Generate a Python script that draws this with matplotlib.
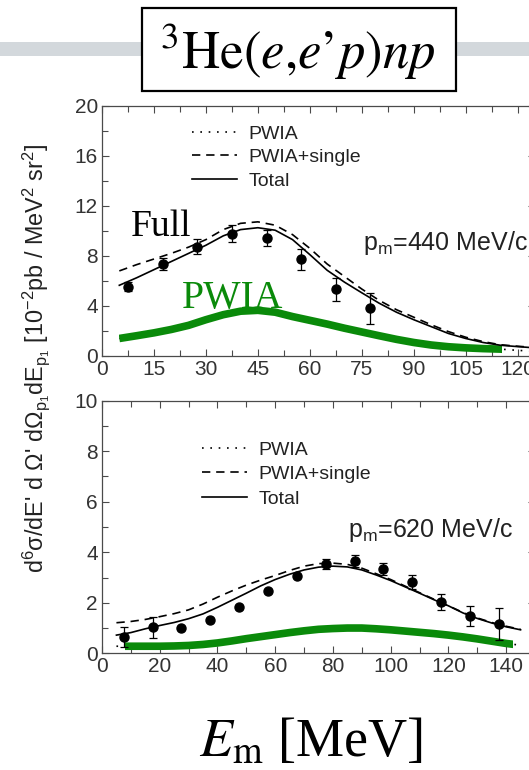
import numpy as np
import matplotlib
matplotlib.use("Agg")
import matplotlib.pyplot as plt
from matplotlib.lines import Line2D
from matplotlib.patches import Rectangle
from matplotlib.ticker import MultipleLocator

plt.rcParams['font.family'] = ['Liberation Sans', 'DejaVu Sans']
plt.rcParams['mathtext.fontset'] = 'custom'
plt.rcParams['mathtext.rm'] = 'Liberation Sans'
plt.rcParams['mathtext.it'] = 'Liberation Sans:italic'
plt.rcParams['mathtext.bf'] = 'Liberation Sans:bold'

# ---------------- p_m = 440 MeV/c ----------------
em_440_data = [7.5, 17.5, 27.5, 37.5, 47.5, 57.5, 67.5, 77.5]
xs_440_data = [5.55, 7.36, 8.72, 9.78, 9.45, 7.73, 5.33, 3.81]
err_440_data = [0.35, 0.47, 0.6, 0.65, 0.63, 0.84, 0.93, 1.23]

em_440_curve = [5, 10, 15, 20, 25, 30, 35, 40, 45, 50, 55, 60, 65, 70, 75,
                80, 85, 90, 95, 100, 105, 110, 115, 120, 125]
total_440 = [5.65, 6.25, 6.9, 7.55, 8.2, 8.85, 9.6, 10.1, 10.25, 10.05, 9.3,
             8.1, 6.85, 5.9, 5.05, 4.22, 3.5, 2.9, 2.35, 1.8, 1.4, 1.08,
             0.86, 0.75, 0.65]
single_440 = [6.8, 7.3, 7.75, 8.2, 8.7, 9.3, 10.1, 10.6, 10.72, 10.45, 9.7,
              8.6, 7.35, 6.35, 5.35, 4.45, 3.7, 3.1, 2.5, 1.95, 1.5, 1.15,
              0.9, 0.78, 0.68]
pwia_440 = [1.4, 1.62, 1.85, 2.12, 2.45, 2.9, 3.3, 3.58, 3.65, 3.5, 3.15,
            2.85, 2.55, 2.22, 1.92, 1.62, 1.33, 1.08, 0.88, 0.74, 0.65,
            0.59, 0.55, 0.45, 0.38]
pwia_band_440 = (5.0, 115.5)

# ---------------- p_m = 620 MeV/c ----------------
em_620_data = [7.5, 17.5, 27.5, 37.5, 47.5, 57.5, 67.5, 77.5, 87.5, 97.5,
               107.5, 117.5, 127.5, 137.5]
xs_620_data = [0.66, 1.03, 1.01, 1.32, 1.82, 2.45, 3.06, 3.52, 3.65, 3.34,
               2.81, 2.02, 1.48, 1.16]
err_620_data = [0.4, 0.41, 0.05, 0.05, 0.05, 0.05, 0.05, 0.2, 0.24, 0.25,
                0.28, 0.32, 0.41, 0.65]

em_620_curve = [5, 10, 15, 20, 25, 30, 35, 40, 45, 50, 55, 60, 65, 70, 75,
                80, 85, 90, 95, 100, 105, 110, 115, 120, 125, 130, 135, 140,
                145]
total_620 = [0.72, 0.82, 0.97, 1.1, 1.22, 1.37, 1.56, 1.82, 2.1, 2.38, 2.67,
             2.92, 3.13, 3.3, 3.41, 3.45, 3.42, 3.3, 3.1, 2.88, 2.63, 2.38,
             2.12, 1.88, 1.6, 1.38, 1.2, 1.05, 0.93]
single_620 = [1.21, 1.26, 1.34, 1.45, 1.57, 1.72, 1.95, 2.22, 2.47, 2.7, 2.9,
              3.08, 3.28, 3.45, 3.55, 3.57, 3.52, 3.37, 3.15, 2.92, 2.66,
              2.4, 2.14, 1.88, 1.62, 1.4, 1.22, 1.07, 0.95]
pwia_620 = [0.28, 0.28, 0.28, 0.28, 0.29, 0.31, 0.35, 0.41, 0.49, 0.58, 0.66,
            0.74, 0.82, 0.89, 0.95, 0.98, 1.0, 1.0, 0.97, 0.93, 0.88, 0.83,
            0.78, 0.72, 0.65, 0.57, 0.48, 0.39, 0.32]
pwia_band_620 = (8.0, 142.5)

legend_labels = ['PWIA', 'PWIA+single', 'Total']

GREEN = '#0a8a0a'
SPINE = '#4a4a4a'
TICKTXT = '#333333'

fig = plt.figure(figsize=(5.29, 7.70), dpi=100)
W, H = 529.0, 770.0


def fx(px):
    return px / W


def fy(py):
    return 1.0 - py / H


# header band and boxed reaction label
fig.patches.append(Rectangle((0, fy(56)), 1.0, (56 - 41.7) / H,
                             transform=fig.transFigure, facecolor='#d3d8dc',
                             edgecolor='none', zorder=0))
fig.patches.append(Rectangle((fx(142), fy(91)), (456 - 142) / W, (91 - 8) / H,
                             transform=fig.transFigure, facecolor='white',
                             edgecolor='black', linewidth=1.6, zorder=1))
fig.text(fx(298), fy(52), r"$^{3}\mathrm{He(}e\mathrm{,}e\mathrm{’}p\mathrm{)}np$",
         math_fontfamily='stix', fontsize=38, ha='center', va='center',
         color='black', zorder=2)


def style_axes(ax, xlim, ylim, xmaj, xmin, ymaj, ymin):
    ax.set_xlim(*xlim)
    ax.set_ylim(*ylim)
    ax.xaxis.set_major_locator(MultipleLocator(xmaj))
    ax.xaxis.set_minor_locator(MultipleLocator(xmin))
    ax.yaxis.set_major_locator(MultipleLocator(ymaj))
    ax.yaxis.set_minor_locator(MultipleLocator(ymin))
    ax.tick_params(which='both', direction='in', top=True, right=True,
                   color=SPINE, width=0.8, labelsize=15, labelcolor=TICKTXT)
    ax.tick_params(which='major', length=5, pad=3)
    ax.tick_params(which='minor', length=4)
    for s in ax.spines.values():
        s.set_color(SPINE)
        s.set_linewidth(0.9)


def draw_panel(ax, em_c, total, single, pwia, band, em_d, xs_d, err_d):
    ax.plot(em_c, pwia, color='black', lw=1.2, ls=(0, (1, 4)), zorder=2)
    green, = ax.plot(em_c, pwia, color=GREEN, lw=5.5, solid_capstyle='butt',
                     zorder=3)
    clip = Rectangle((band[0], -100), band[1] - band[0], 200,
                     transform=ax.transData)
    green.set_clip_path(clip)
    ax.plot(em_c, single, color='black', lw=1.2, ls=(0, (5, 3.5)), zorder=4)
    ax.plot(em_c, total, color='black', lw=1.2, zorder=4)
    ax.errorbar(em_d, xs_d, yerr=err_d, fmt='o', color='black', ms=6.5,
                capsize=3, elinewidth=0.9, capthick=0.9, zorder=5)


def add_legend(ax, anchor, spacing):
    handles = [Line2D([], [], color='black', lw=1.2, ls=(0, (1, 4))),
               Line2D([], [], color='black', lw=1.2, ls=(0, (5, 3.5))),
               Line2D([], [], color='black', lw=1.2)]
    leg = ax.legend(handles, legend_labels, loc='upper left',
                    bbox_to_anchor=anchor, frameon=False, fontsize=14,
                    handlelength=2.3, handletextpad=0.6, labelspacing=spacing,
                    borderpad=0, borderaxespad=0)
    for t in leg.get_texts():
        t.set_color('#222222')


# upper panel
ax1 = fig.add_axes([fx(102), fy(356), 433 / W, (356 - 105.7) / H])
style_axes(ax1, (0, 125), (0, 20), 15, 7.5, 4, 2)
draw_panel(ax1, em_440_curve, total_440, single_440, pwia_440, pwia_band_440,
           em_440_data, xs_440_data, err_440_data)
add_legend(ax1, ((192 - 102) / 433, (356 - 125) / 250.3), 0.3)
ax1.text(8.3, 9.6, 'Full', family='Liberation Serif', fontsize=27,
         color='black', zorder=6)
ax1.text(23.0, 3.8, 'PWIA', family='Liberation Serif', fontsize=28.5,
         color=GREEN, zorder=6)
ax1.text(75.3, 8.5, r'p$_{\mathrm{m}}$=440 MeV/c', fontsize=18,
         color='#222222', zorder=6)

# lower panel
ax2 = fig.add_axes([fx(102), fy(653.3), 433 / W, (653.3 - 400.7) / H])
style_axes(ax2, (0, 150), (0, 10), 20, 10, 2, 1)
draw_panel(ax2, em_620_curve, total_620, single_620, pwia_620, pwia_band_620,
           em_620_data, xs_620_data, err_620_data)
add_legend(ax2, ((202 - 102) / 433, (653.3 - 441) / 252.6), 0.36)
ax2.text(85.2, 4.6, r'p$_{\mathrm{m}}$=620 MeV/c', fontsize=18,
         color='#222222', zorder=6)

# shared axis titles
fig.text(fx(36), fy(358),
         r"d$^{6}$σ/dE' d Ω' dΩ$_{\mathrm{p}_{1}}$dE$_{\mathrm{p}_{1}}$ "
         r"[10$^{-2}$pb / MeV$^{2}$ sr$^{2}$]",
         rotation=90, ha='center', va='center', fontsize=16.8, color='#222222')
fig.text(fx(311), fy(757), r"$E_{\mathrm{m}}$ [MeV]", family='Liberation Serif',
         math_fontfamily='stix', fontsize=39, ha='center', va='baseline',
         color='black')

fig.savefig('out.png', dpi=100)
